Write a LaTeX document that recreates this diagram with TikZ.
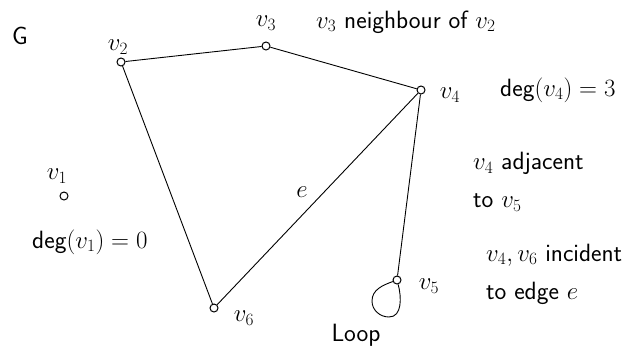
\documentclass[tikz,border=0pt]{standalone}
\usepackage{amsmath,amssymb}
\usepackage{tikz}
\usetikzlibrary{positioning,calc}
\tikzset{
  vtx/.style={circle,draw=black,line width=1pt,fill=white,inner sep=0pt,minimum size=8pt},
  edge/.style={draw=black,line width=0.9pt},
  lbl/.style={font=\sffamily\fontsize{25}{38}\selectfont,inner sep=0pt},
  note/.style={lbl,anchor=west,align=left}
}

\begin{document}
\begin{tikzpicture}[x=1pt,y=-1pt]
  \useasboundingbox (0,0) rectangle (639,356);
  \node[lbl] (gname) at (20,36) {G};
  \node[vtx] (v1) at (64,196) {};
  \node[vtx] (v2) at (121,62) {};
  \node[vtx] (v3) at (266,46) {};
  \node[vtx] (v4) at (421,90) {};
  \node[vtx] (v5) at (397,280) {};
  \node[vtx] (v6) at (214,308) {};
  \node[lbl] (l1) at (57,176) {$v_1$};
  \node[lbl] (l2) at (118,47) {$v_2$};
  \node[lbl] (l3) at (266,23) {$v_3$};
  \node[lbl] (l4) at (450,95) {$v_4$};
  \node[lbl] (l5) at (429,286) {$v_5$};
  \node[lbl] (l6) at (244,318) {$v_6$};
  \draw[edge] (v2)--(v3);
  \draw[edge] (v3)--(v4);
  \draw[edge] (v2)--(v6);
  \draw[edge] (v4)--(v6);
  \node[lbl] (e) at (302,192) {$e$};
  \draw[edge] (v4)--(v5);
  % loop at v5
  \coordinate (lpL) at (372,301);
  \coordinate (lpB) at (389,317);
  \draw[edge] (v5) to[out=200,in=90] (lpL) to[out=-90,in=180] (lpB)
    to[out=0,in=-75] (v5);
  \node[lbl] (loop) at (356,335) {Loop};
  % remarks
  \node[note] (nb) at (316,22) {$v_3$ neighbour of $v_2$};
  \node[note] (d4) at (500,90) {deg$(v_4) = 3$};
  \node[note] (d1) at (32,242) {deg$(v_1) = 0$};
  \node[note] (adj) at (473,182) {$v_4$ adjacent\\to $v_5$};
  \node[note] (inc) at (486,274) {$v_4,v_6$ incident\\to edge $e$};
\end{tikzpicture}
\end{document}
